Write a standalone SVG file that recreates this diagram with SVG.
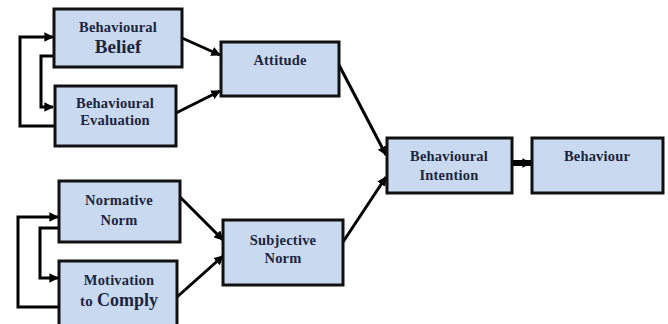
<svg xmlns="http://www.w3.org/2000/svg" width="668" height="324" viewBox="0 0 668 324">
<style>
.box{fill:#c9d9ef;stroke:#111;stroke-width:3}
.t{font-family:"Liberation Serif","Times New Roman",serif;font-weight:bold;fill:#1c2540;text-anchor:middle;font-size:14.5px;letter-spacing:0.2px}
.big{font-size:19px;letter-spacing:0}
.c{fill:none;stroke:#000;stroke-width:3}
</style>
<defs>
<marker id="ah" viewBox="0 0 10 10" refX="9" refY="5" markerWidth="3.2" markerHeight="3.2" orient="auto" markerUnits="strokeWidth">
<path d="M0,0 L10,5 L0,10 z" fill="#000"/>
</marker>
<marker id="ah2" viewBox="0 0 10 10" refX="9" refY="5" markerWidth="1.6" markerHeight="1.6" orient="auto" markerUnits="strokeWidth">
<path d="M0,0 L10,5 L0,10 z" fill="#000"/>
</marker>
</defs>
<rect width="668" height="324" fill="#fff"/>
<g id="connectors">
<path class="c" d="M182,38 L220,55" marker-end="url(#ah)"/>
<path class="c" d="M176,113 L220,91" marker-end="url(#ah)"/>
<path class="c" d="M339,65 L386,155" marker-end="url(#ah)"/>
<path class="c" d="M180,197 L223,240" marker-end="url(#ah)"/>
<path class="c" d="M177,297 L223,256" marker-end="url(#ah)"/>
<path class="c" d="M343,242 L386,177" marker-end="url(#ah)"/>
<path d="M512,163 L531,163" fill="none" stroke="#000" stroke-width="6" marker-end="url(#ah2)"/>
<path class="c" stroke-width="4" d="M55,126 L20,126 L20,37 L53,37" marker-end="url(#ah)"/>
<path class="c" stroke-width="4" d="M54,56 L41,56 L41,107 L53,107" marker-end="url(#ah)"/>
<path class="c" stroke-width="4" d="M59,307 L18,307 L18,217 L58,217" marker-end="url(#ah)"/>
<path class="c" stroke-width="4" d="M59,228 L40,228 L40,278 L58,278" marker-end="url(#ah)"/>
</g>
<g id="belief">
<rect class="box" x="54" y="9" width="128" height="58"/>
<text class="t" x="118" y="32">Behavioural</text>
<text class="t big" x="118" y="53">Belief</text>
</g>
<g id="evaluation">
<rect class="box" x="55" y="86" width="121" height="60"/>
<text class="t" x="115" y="108">Behavioural</text>
<text class="t" x="115" y="125">Evaluation</text>
</g>
<g id="attitude">
<rect class="box" x="221" y="42" width="118" height="54"/>
<text class="t" x="280" y="65">Attitude</text>
</g>
<g id="normative">
<rect class="box" x="59" y="181" width="121" height="61"/>
<text class="t" x="119" y="205">Normative</text>
<text class="t" x="119" y="225">Norm</text>
</g>
<g id="motivation">
<rect class="box" x="59" y="261" width="118" height="66"/>
<text class="t" x="119" y="285">Motivation</text>
<text class="t" x="119" y="306"><tspan font-size="15">to </tspan><tspan font-size="18" letter-spacing="0">Comply</tspan></text>
</g>
<g id="subjective">
<rect class="box" x="223" y="220" width="120" height="65"/>
<text class="t" x="283" y="245">Subjective</text>
<text class="t" x="283" y="263">Norm</text>
</g>
<g id="intention">
<rect class="box" x="387" y="138" width="125" height="55"/>
<text class="t" x="449" y="161">Behavioural</text>
<text class="t" x="449" y="180">Intention</text>
</g>
<g id="behaviour">
<rect class="box" x="532" y="138" width="131" height="55"/>
<text class="t" x="597" y="161">Behaviour</text>
</g>
</svg>
